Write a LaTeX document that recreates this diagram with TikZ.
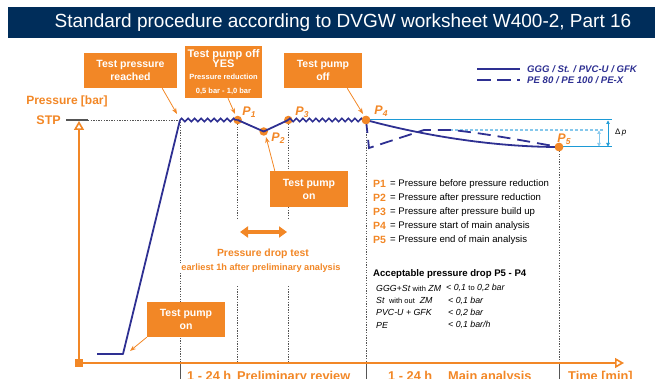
\documentclass[tikz,border=0pt]{standalone}
\usepackage{fontspec}
\setmainfont{Liberation Sans}
\usetikzlibrary{decorations.pathmorphing,arrows.meta}
\definecolor{og}{HTML}{F28726}
\definecolor{nv}{HTML}{2E3092}
\definecolor{titlebg}{HTML}{002D5A}
\definecolor{lb}{HTML}{1C9AD6}
\definecolor{lbl}{HTML}{86C8EC}
\definecolor{dg}{HTML}{555555}
\newcommand{\fs}[1]{\fontsize{#1}{#1}\selectfont}
\newcommand{\Plab}[1]{{\fs{12.5}\bfseries\itshape P\raisebox{-2pt}{\fs{8.5}#1}}}
\begin{document}
\begin{tikzpicture}[x=1pt,y=-1pt,
  callout/.style={fill=og,text=white,font=\bfseries\fs{10.5},align=center,inner sep=0pt,minimum width=#1},
  carrow/.style={og,line width=0.8pt,-{Stealth[length=6pt,width=4.5pt]}},
  vdot/.style={dg,line width=0.9pt,dash pattern=on 1.3pt off 1.3pt},
  vsol/.style={dg,line width=1pt},
  curve/.style={nv,line width=1.8pt},
  zz/.style={nv,line width=1.5pt,decorate,decoration={zigzag,segment length=6.5pt,amplitude=1.7pt}},
  pdot/.style={circle,fill=og,minimum size=8.5pt,inner sep=0pt},
  plabel/.style={text=og,inner sep=0pt},
  axis/.style={og,line width=1.6pt,-{Triangle[open,length=9pt,width=10pt,line width=1.6pt]}},
  leg/.style={anchor=west,inner sep=0pt,font=\fs{9.6}},
  legp/.style={anchor=west,inner sep=0pt,text=og,font=\bfseries\fs{10.5}},
  row/.style={anchor=west,inner sep=0pt,font=\itshape\fs{8.8}},
  bottom/.style={anchor=base west,inner sep=0pt,text=og,font=\bfseries\fs{12.8}}
]
\useasboundingbox (0,0) rectangle (663,379);
\begin{scope}
\clip (0,0) rectangle (663,379);
% title
\fill[titlebg] (8,7) rectangle (655,38);
\node[text=white,font=\fs{19},inner sep=0pt] (title) at (343,23) {Standard procedure according to DVGW worksheet W400-2, Part 16};

% vertical guide lines
\coordinate (g0t) at (180,122); \coordinate (g0a) at (180,363); \coordinate (g0b) at (180,381);
\coordinate (g1t) at (237.7,124); \coordinate (g1m) at (237.7,218); \coordinate (g1n) at (237.7,286); \coordinate (g1a) at (237.7,363);
\coordinate (g3t) at (288.3,124); \coordinate (g3m) at (288.3,218); \coordinate (g3n) at (288.3,286); \coordinate (g3a) at (288.3,363);
\coordinate (g4t) at (366,124); \coordinate (g4a) at (366,363); \coordinate (g4b) at (366,381);
\coordinate (g5t) at (559,151); \coordinate (g5a) at (559,363); \coordinate (g5b) at (559,381);
\draw[vdot] (g0t) -- (g0a); \draw[vsol] (g0a) -- (g0b);
\draw[vdot] (g1t) -- (g1m); \draw[vdot] (g1n) -- (g1a);
\draw[vdot] (g3t) -- (g3m); \draw[vdot] (g3n) -- (g3a);
\draw[vdot] (g4t) -- (g4a); \draw[vsol] (g4a) -- (g4b);
\draw[vdot] (g5t) -- (g5a); \draw[vsol] (g5a) -- (g5b);

% STP tick
\coordinate (s0) at (66,120); \coordinate (s1) at (88,120); \coordinate (s2) at (178,120);
\draw[dg,line width=1.5pt] (s0) -- (s1);
\draw[vdot] (s1) -- (s2);

% axes
\coordinate (origin) at (79,363);
\coordinate (ytop) at (79,121);
\coordinate (xend) at (624,363);
\draw[axis] (origin) -- (ytop);
\draw[axis] (origin) -- (xend);
\node[fill=og,minimum size=8pt,inner sep=0pt] (orsq) at (origin) {};
\node[text=og,font=\bfseries\fs{12},inner sep=0pt] (ylab) at (67,101) {Pressure [bar]};
\node[text=og,font=\bfseries\fs{12.5},inner sep=0pt,anchor=east] (stp) at (61,120) {STP};

% points
\node[pdot] (P1) at (237.7,120) {};
\node[pdot] (P2) at (263.7,131.5) {};
\node[pdot] (P3) at (288.3,120) {};
\node[pdot] (P4) at (366,120) {};
\node[pdot] (P5) at (559,147) {};

% light blue delta p
\coordinate (lb1) at (612,120); \coordinate (lb2) at (612,147);
\coordinate (lb3) at (450,130); \coordinate (lb4) at (604,130);
\draw[lb,line width=1pt] (P4.center) -- (lb1);
\draw[lb,line width=1pt] (P5.center) -- (lb2);
\draw[lbl,line width=1.1pt,dash pattern=on 3pt off 2pt] (lb3) -- (lb4);
\coordinate (da1) at (608,120.5); \coordinate (da2) at (608,146.5);
\coordinate (db1) at (599,130.5); \coordinate (db2) at (599,146.5);
\draw[lb,line width=0.7pt,{Triangle[length=3.5pt,width=3.5pt]}-{Triangle[length=3.5pt,width=3.5pt]}] (da1) -- (da2);
\draw[lbl,line width=0.7pt,{Triangle[length=3.5pt,width=3.5pt]}-{Triangle[length=3.5pt,width=3.5pt]}] (db1) -- (db2);
\node[inner sep=0pt,anchor=west,font=\fs{8}] (dp) at (615,133) {Δ\,\textit{p}};

% curves
\coordinate (c0) at (97,354); \coordinate (c1) at (123,354); \coordinate (c2) at (180,120);
\draw[curve,line join=round] (c0) -- (c1) -- (c2);
\draw[zz] (c2) -- (P1.center);
\draw[curve,line join=round] (P1.center) -- (P2.center) -- (P3.center);
\draw[zz] (P3.center) -- (P4.center);
\draw[curve] (P4.center) .. controls (425,136) and (495,147) .. (P5.center);
\coordinate (d1) at (369,148); \coordinate (d2) at (424,130); \coordinate (d3) at (452,130);
\draw[nv,line width=1.8pt,dash pattern=on 13pt off 7pt] (P4.center) -- (d1) -- (d2) -- (d3) .. controls (490,134) and (530,142) .. (P5.center);
\node[pdot] at (P4) {};
\node[pdot] at (P5) {};

% point labels
\node[plabel] (L1) at (249,112) {\Plab{1}};
\node[plabel] (L2) at (278,138) {\Plab{2}};
\node[plabel] (L3) at (302,112) {\Plab{3}};
\node[plabel] (L4) at (381,111) {\Plab{4}};
\node[plabel] (L5) at (564,139) {\Plab{5}};

% callouts
\node[callout=93pt,minimum height=35pt] (k1) at (130.5,70.5) {Test pressure\\[2.5pt]reached};
\node[callout=77pt,minimum height=52pt] (k2) at (223.5,72) {\fs{11}Test pump off\\[-0.5pt]\fs{11}YES\\[2pt]\fs{7.5}Pressure reduction\\[3pt]\fs{7.5}0,5 bar - 1,0 bar};
\node[callout=78pt,minimum height=35pt] (k3) at (323,70.5) {Test pump\\[2.5pt]off};
\node[callout=78pt,minimum height=36pt] (k4) at (309,189) {Test pump\\[2.5pt]on};
\node[callout=78pt,minimum height=35pt] (k5) at (186,319.5) {Test pump\\[2.5pt]on};
\coordinate (t1) at (177,114);
\coordinate (t2) at (235,114);
\coordinate (t3) at (363,114);
\coordinate (t4) at (266,137);
\coordinate (t5) at (130,351);
\draw[carrow] ([xshift=-15pt]k1.south east) -- (t1);
\draw[carrow] ([xshift=4.5pt]k2.south) -- (t2);
\draw[carrow] ([xshift=-15pt]k3.south east) -- (t3);
\draw[carrow] ([xshift=5pt]k4.north west) -- (t4);
\draw[carrow] (k5.south west) -- (t5);

% pressure drop test
\coordinate (pa) at (240,232); \coordinate (pb) at (287,232);
\draw[og,line width=3.5pt,{Triangle[length=8pt,width=11pt]}-{Triangle[length=8pt,width=11pt]}] (pa) -- (pb);
\node[text=og,fill=white,font=\bfseries\fs{10.4},inner sep=1pt] (pdt) at (263,254) {Pressure drop test};
\node[text=og,fill=white,font=\bfseries\fs{9.2},inner sep=1pt] (pdt2) at (261,268) {earliest 1h after preliminary analysis};

% legend top right
\coordinate (la) at (477,69); \coordinate (lbb) at (520,69);
\coordinate (lc) at (477,80); \coordinate (ld) at (520,80);
\draw[nv,line width=2pt] (la) -- (lbb);
\draw[nv,line width=2pt,dash pattern=on 14pt off 6pt] (lc) -- (ld);
\node[anchor=west,inner sep=0pt,text=nv,font=\bfseries\itshape\fs{9.6}] (lt1) at (527,69) {GGG / St. / PVC-U / GFK};
\node[anchor=west,inner sep=0pt,text=nv,font=\bfseries\itshape\fs{9.6}] (lt2) at (527,80) {PE 80 / PE 100 / PE-X};

% legend P list
\node[legp] (q1) at (373,184) {P1};
\node[leg] at (390,184) {= Pressure before pressure reduction};
\node[legp] (q2) at (373,198) {P2};
\node[leg] at (390,198) {= Pressure after pressure reduction};
\node[legp] (q3) at (373,212) {P3};
\node[leg] at (390,212) {= Pressure after pressure build up};
\node[legp] (q4) at (373,226) {P4};
\node[leg] at (390,226) {= Pressure start of main analysis};
\node[legp] (q5) at (373,240) {P5};
\node[leg] at (390,240) {= Pressure end of main analysis};

\node[anchor=west,inner sep=0pt,font=\bfseries\fs{9.6}] (acc) at (373,274) {Acceptable pressure drop P5 - P4};
\node[row] (r1a) at (376,288) {GGG+St {\upshape\fs{7.5}with} ZM};
\node[row] (r1b) at (446,288) {< 0,1 {\upshape\fs{7.5}to} 0,2 bar};
\node[row] (r2a) at (376,300.5) {St {\upshape\fs{7.5}\ with out} \ ZM};
\node[row] (r2b) at (448,300.5) {< 0,1 bar};
\node[row] (r3a) at (376,312.7) {PVC-U + GFK};
\node[row] (r3b) at (448,312.7) {< 0,2 bar};
\node[row] (r4a) at (376,325) {PE};
\node[row] (r4b) at (448,325) {< 0,1 bar/h};

% bottom labels (cut by the lower edge, as in the original)
\node[bottom] (b1) at (187,380.5) {1 - 24 h};
\node[bottom] (b2) at (237,380.5) {Preliminary review};
\node[bottom] (b3) at (388,380.5) {1 - 24 h};
\node[bottom] (b4) at (448,380.5) {Main analysis};
\node[bottom] (b5) at (568,380.5) {Time [min]};
\end{scope}
\end{tikzpicture}
\end{document}
